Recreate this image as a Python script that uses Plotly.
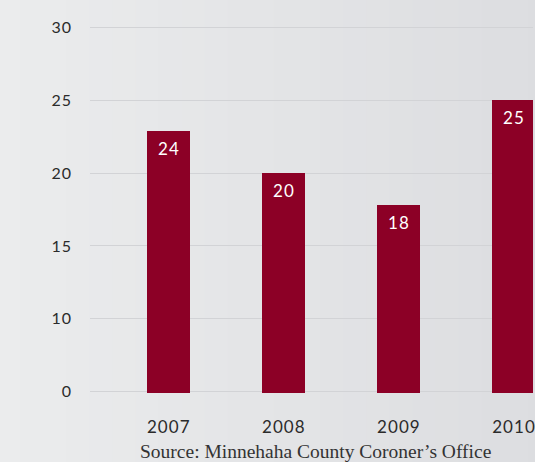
import plotly.graph_objects as go

years = ["2007", "2008", "2009", "2010"]
bar_heights = [22.9, 20.0, 17.8, 25.0]   # bar tops as read against the printed axis
bar_labels = ["24", "20", "18", "25"]     # values printed on the bars
tick_vals = [5, 10, 15, 20, 25, 30]
tick_text = ["0", "10", "15", "20", "25", "30"]
source = "Source: Minnehaha County Coroner\u2019s Office"

BAR = "#8c0026"
HS = "\u200a"

def spaced(s):
    return HS.join(list(s))

x = list(range(len(years)))

fig = go.Figure()
fig.add_trace(go.Bar(x=x, y=bar_heights, marker=dict(color=BAR, line=dict(width=0)),
                     width=0.372, hoverinfo="skip"))

for xi, h, lab in zip(x, bar_heights, bar_labels):
    fig.add_annotation(x=xi, y=h, text=spaced(lab), showarrow=False, yanchor="top", yshift=-5,
                       font=dict(family="Lato, Open Sans, sans-serif", size=17, color="white"))

fig.add_annotation(xref="paper", yref="paper", x=0.51, y=-0.16, xanchor="center", yanchor="middle",
                   text=source, showarrow=False,
                   font=dict(family="Liberation Serif, serif", size=19.5, color="#333333"))

# subtle left-to-right background gradient
n = 24
c0 = (235, 236, 237)
c1 = (220, 221, 224)
shapes = []
for i in range(n):
    t = i / (n - 1)
    c = tuple(round(a + (b - a) * t) for a, b in zip(c0, c1))
    shapes.append(dict(type="rect", xref="paper", yref="paper", layer="below",
                       x0=-0.21 + i * 1.25 / n, x1=-0.21 + (i + 1) * 1.25 / n + 0.002,
                       y0=-0.25, y1=1.1, line=dict(width=0),
                       fillcolor="rgb(%d,%d,%d)" % c))

fig.update_layout(
    width=535, height=462,
    margin=dict(l=90, r=0, t=25.5, b=68.5),
    paper_bgcolor="#e4e5e7", plot_bgcolor="rgba(0,0,0,0)",
    showlegend=False, bargap=0,
    shapes=shapes,
    xaxis=dict(range=[-0.68, 3.17], tickvals=x, ticktext=[spaced(y) for y in years],
               showgrid=False, zeroline=False, showline=False, ticks="",
               ticklabelstandoff=22, ticklabeloverflow="allow",
               tickfont=dict(family="Lato, Open Sans, sans-serif", size=17, color="#2b2b2b")),
    yaxis=dict(range=[4.9, 30.1], tickvals=tick_vals, ticktext=[spaced(t) for t in tick_text],
               showgrid=True, gridcolor="#d2d3d6", gridwidth=1, zeroline=False, showline=False,
               ticks="", ticklabelstandoff=18,
               tickfont=dict(family="Lato, Open Sans, sans-serif", size=16, color="#2b2b2b")),
)

fig.write_html("out.html", config={"displayModeBar": False},
               post_script="document.body.style.margin='0';document.body.style.overflow='hidden';")
